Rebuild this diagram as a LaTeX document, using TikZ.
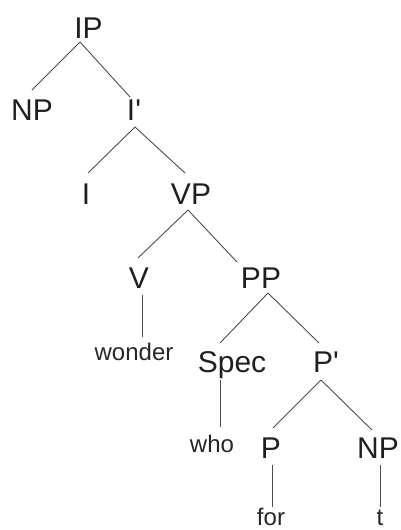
\documentclass[tikz,border=0pt]{standalone}
\usepackage{fontspec}
\setmainfont{Liberation Sans}
\usetikzlibrary{calc}
\begin{document}
\begin{tikzpicture}[x=1pt,y=-1pt,
  cat/.style={anchor=base,inner sep=0pt,font=\fontsize{30}{36}\selectfont,text=black!88},
  word/.style={anchor=base,inner sep=0pt,font=\fontsize{24}{28}\selectfont,text=black!85},
  branch/.style={draw=black!70,line width=0.9pt}]
\useasboundingbox (0,0) rectangle (400,530);

% categories
\node[cat] (IP)   at (88.5,38) {IP};
\node[cat] (NPa)  at (32,120)  {NP};
\node[cat] (Ib)   at (134,120) {I\textquotesingle};
\node[cat] (I)    at (86,204)  {I};
\node[cat] (VP)   at (191,204) {VP};
\node[cat] (V)    at (139,288) {V};
\node[cat] (PP)   at (261,288) {PP};
\node[cat] (Spec) at (232,372) {Spec};
\node[cat] (Pb)   at (326,372) {P\textquotesingle};
\node[cat] (P)    at (271,458) {P};
\node[cat] (NPb)  at (378,458) {NP};

% terminal words
\node[word] (wonder) at (134,360) {wonder};
\node[word] (who)    at (212,452) {who};
\node[word] (for)    at (271,525) {for};
\node[word] (t)      at (380,525) {t};

% branches
\draw[branch] ($(IP.base)+(-8.5,4)$) -- ($(NPa.base)+(0,-30)$);
\draw[branch] ($(IP.base)+(-8.5,4)$) -- ($(Ib.base)+(-4,-23)$);
\draw[branch] ($(Ib.base)+(1,7)$) -- ($(I.base)+(2,-31)$);
\draw[branch] ($(Ib.base)+(1,7)$) -- ($(VP.base)+(-6,-31)$);
\draw[branch] ($(VP.base)+(-3,6)$) -- ($(V.base)+(-1,-30)$);
\draw[branch] ($(VP.base)+(-3,6)$) -- ($(PP.base)+(-24,-26)$);
\draw[branch] ($(V.base)+(3,7)$) -- ($(wonder.base)+(8,-23)$);
\draw[branch] ($(PP.base)+(7,5)$) -- ($(Spec.base)+(-12,-29)$);
\draw[branch] ($(PP.base)+(7,5)$) -- ($(Pb.base)+(-7,-29)$);
\draw[branch] ($(Spec.base)+(-12,8)$) -- ($(who.base)+(8,-25)$);
\draw[branch] ($(Pb.base)+(-5,8)$) -- ($(P.base)+(2,-30)$);
\draw[branch] ($(Pb.base)+(-5,8)$) -- ($(NPb.base)+(-6,-28)$);
\draw[branch] ($(P.base)+(1,7)$) -- ($(for.base)+(1,-18)$);
\draw[branch] ($(NPb.base)+(2,7)$) -- ($(t.base)+(0,-18)$);
\end{tikzpicture}
\end{document}
